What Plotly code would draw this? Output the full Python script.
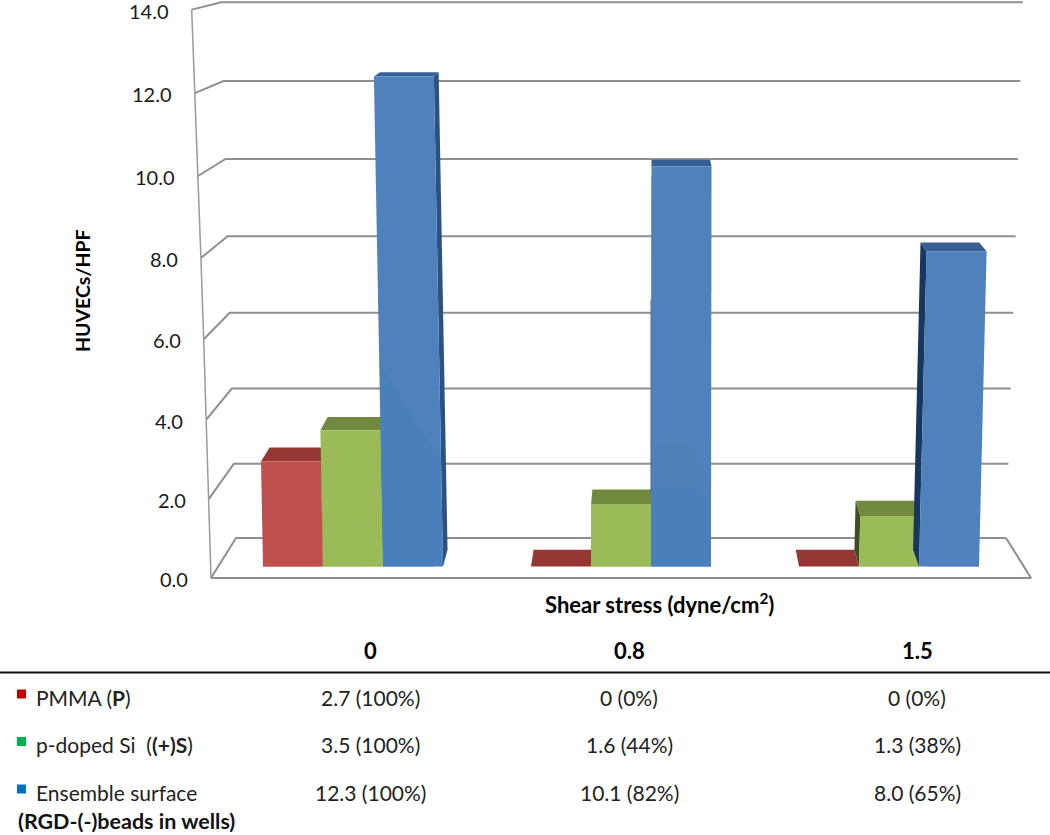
import plotly.graph_objects as go

# ---------- data ----------
categories = ["0", "0.8", "1.5"]
series_names = ["PMMA", "p-doped Si", "Ensemble surface"]
pmma = [2.7, 0, 0]
pdoped = [3.5, 1.6, 1.3]
ensemble = [12.3, 10.1, 8.0]
pmma_pct = [100, 0, 0]
pdoped_pct = [100, 44, 38]
ensemble_pct = [100, 82, 65]
y_ticks = [0, 2, 4, 6, 8, 10, 12, 14]

# ---------- styling / geometry ----------
W, H = 1050, 835
FONT = "Lato"
PX_X = 268.0       # pixels per category
X0_PX = 353.0      # pixel of category 0 centre
PX_Y = 38.6        # pixels per value unit
Y0_PX = 566.5      # pixel of value 0 at bar base
BAR_W = 60 / PX_X
VANISH = (650 - X0_PX) / PX_X
DEPTH_X = 0.022
SKEW = [-0.74 / PX_X, 0.05 / PX_X, 0.95 / PX_X]   # per-category lean, x units per value unit
FRONT = ["#C0504D", "#9BBB59", "#4F81BD"]
TOP = ["#953735", "#71893F", "#376092"]
SIDE_R = ["#632523", "#4F6228", "#2C5282"]
SIDE_L = ["#632523", "#3F4D22", "#17375E"]
GRID = "#8f8f8f"
REFLECT = "#4980BC"
REFLECT_BAND = "#5080BA"


def dx(px):
    return (px - X0_PX) / PX_X


def dy(px):
    return (Y0_PX - px) / PX_Y


def persp(v):
    """height of a value on the bar plane, with the chart's slight perspective"""
    return v + 0.1 * v * v / PX_Y


def depth(v):
    return (16.7 - v) / PX_Y


def back_x(x):
    return x + (VANISH - x) * DEPTH_X


def poly(xs, ys, color):
    return go.Scatter(x=xs + xs[:1], y=ys + ys[:1], mode="lines", fill="toself", fillcolor=color,
                      line=dict(width=0), hoverinfo="skip", showlegend=False)


def px_poly(points, color):
    return poly([dx(p[0]) for p in points], [dy(p[1]) for p in points], color)


fig = go.Figure()

# frame: gridlines from the front-left edge, to the back wall, to the right
for v in y_ticks:
    fy = 578 - 39.2 * v - 0.1 * v * v
    fx = 211 - 1.1 * v - 0.02 * v * v
    by = 538 - 37 * v - 0.09 * v * v
    bx = 236 - 1.05 * v
    rx = 1006 + 1.2 * v
    fig.add_trace(go.Scatter(x=[dx(fx), dx(bx), dx(rx)], y=[dy(fy), dy(by), dy(by)], mode="lines",
                             line=dict(color=GRID, width=2), hoverinfo="skip", showlegend=False))
fx_axis = [211 - 1.1 * v - 0.02 * v * v for v in y_ticks]
fy_axis = [578 - 39.2 * v - 0.1 * v * v for v in y_ticks]
fig.add_trace(go.Scatter(x=[dx(p) for p in fx_axis], y=[dy(p) for p in fy_axis], mode="lines",
                         line=dict(color="#9a9a9a", width=1.5), hoverinfo="skip", showlegend=False))
fig.add_trace(go.Scatter(x=[dx(211), dx(1031), dx(1006)], y=[dy(578), dy(578), dy(538)], mode="lines",
                         line=dict(color=GRID, width=2), hoverinfo="skip", showlegend=False))

# bars: the library's bar core, then faces in perspective
all_series = [pmma, pdoped, ensemble]
for s, vals in enumerate(all_series):
    off = (s - 1) * BAR_W
    cx = []
    wd = []
    for g, v in enumerate(vals):
        lean = SKEW[g] * v
        cx.append(g + off + lean / 2)
        wd.append(BAR_W - abs(lean))
    fig.add_trace(go.Bar(x=cx, y=vals, width=wd, marker=dict(color=FRONT[s], line=dict(width=0)),
                         name=series_names[s], showlegend=False))

for g in range(len(categories)):
    for s, vals in enumerate(all_series):
        v = vals[g]
        h = persp(v)
        l0 = g + (s - 1) * BAR_W - BAR_W / 2
        r0 = l0 + BAR_W
        lean = SKEW[g] * v
        lt, rt = l0 + lean, r0 + lean
        d = depth(v)
        d0 = depth(0)
        # side faces
        if r0 < VANISH:
            fig.add_trace(poly([rt, back_x(rt), back_x(r0), r0], [h, h + d, d0, 0], SIDE_R[s]))
        if l0 > VANISH:
            fig.add_trace(poly([lt, back_x(lt), back_x(l0), l0], [h, h + d, d0, 0], SIDE_L[s]))
        # top face
        fig.add_trace(poly([lt, back_x(lt), back_x(rt), rt], [h, h + d, h + d, h], TOP[s]))
        # front face
        if v > 0:
            fig.add_trace(poly([l0, lt, rt, r0], [0, h, h, 0], FRONT[s]))

# faint reflections on the blue fronts, and the dark edge of the middle blue bar
fig.add_trace(px_poly([(383, 566), (380, 363), (440, 460), (443, 566)], REFLECT))
fig.add_trace(px_poly([(651, 488), (651, 445), (690, 445), (711, 480), (711, 505), (690, 488)], REFLECT_BAND))
fig.add_trace(px_poly([(651, 566), (651, 488), (690, 488), (711, 505), (711, 566)], REFLECT))
fig.add_trace(go.Scatter(x=[dx(651), dx(651)], y=[dy(300), dy(492)], mode="lines",
                         line=dict(color="#44699a", width=1), hoverinfo="skip", showlegend=False))


def text(px, py, s, size=21, anchor="center", angle=0, color="#222222"):
    fig.add_annotation(x=px / W, y=1 - py / H, xref="paper", yref="paper", text=s, showarrow=False,
                       xanchor=anchor, yanchor="middle", textangle=angle,
                       font=dict(family=FONT, size=size, color=color))


# y tick labels follow the slanted axis
for v, fx, fy in zip(y_ticks, fx_axis, fy_axis):
    text(fx - 21, fy + 1, f"{v:.1f}", size=20, anchor="right", color="#1a1a1a")

text(82, 291, "<b>HUVECs/HPF</b>", size=19.5, angle=-90, color="#000000")
text(659.5, 603.5, "<b>Shear stress (dyne/cm<sup>2</sup>)</b>", size=22, color="#000000")

# data table below the chart
col_px = [370.5, 629, 917]
row_py = [697, 744.5, 792]
for c, cat in zip(col_px, categories):
    text(c, 650, f"<b>{cat}</b>", size=22, color="#000000")
fig.add_shape(type="line", xref="paper", yref="paper", x0=0, x1=1, y0=1 - 672.5 / H, y1=1 - 672.5 / H,
              line=dict(color="#111111", width=2))
for r, (vals, pcts) in enumerate(zip(all_series, [pmma_pct, pdoped_pct, ensemble_pct])):
    for c, v, p in zip(col_px, vals, pcts):
        text(c, row_py[r], f"{v:g} ({p}%)" if v != 8 else f"{v:.1f} ({p}%)")

legend_colors = ["#C00000", "#00B050", "#0070C0"]
legend_labels = ["PMMA (<b>P</b>)", "p-doped Si  (<b>(+)S</b>)", "Ensemble surface"]
for r, (col, lab) in enumerate(zip(legend_colors, legend_labels)):
    sy = row_py[r] - 3
    fig.add_shape(type="rect", xref="paper", yref="paper", x0=17 / W, x1=26 / W,
                  y0=1 - (sy + 4.5) / H, y1=1 - (sy - 4.5) / H, fillcolor=col, line=dict(width=0))
    text(34, row_py[r], lab, anchor="left")
text(16, 821, "<b>(RGD-(-)beads in wells)</b>", size=21.5, anchor="left", color="#111111")

fig.update_layout(
    width=W, height=H, margin=dict(l=0, r=0, t=0, b=0),
    paper_bgcolor="white", plot_bgcolor="white", barmode="overlay", showlegend=False,
    xaxis=dict(visible=False, range=[dx(0), dx(W)], fixedrange=True),
    yaxis=dict(visible=False, range=[dy(H), dy(0)], fixedrange=True),
)
fig.write_html("out.html", config={"displayModeBar": False},
               post_script="document.body.style.margin='0';")
